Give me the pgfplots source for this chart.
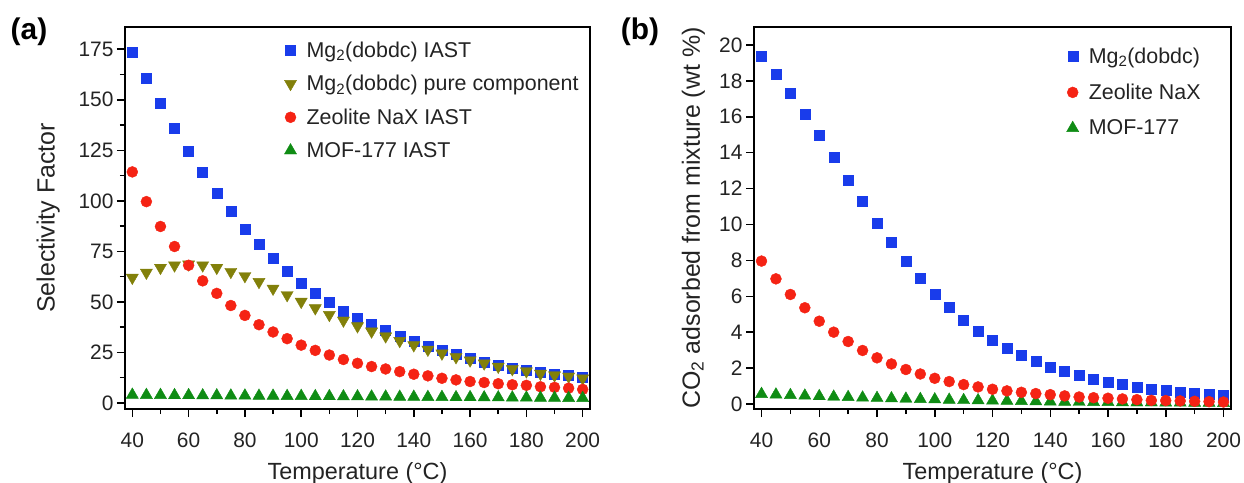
\documentclass[border=0pt]{standalone}
\usepackage{pgfplots}
\usepackage{pgfplotstable}
\pgfplotsset{compat=1.18}
\usepackage{fontspec}
\setmainfont{Liberation Sans}
\definecolor{cblue}{RGB}{25,60,235}
\definecolor{colive}{RGB}{130,128,10}
\definecolor{cred}{RGB}{245,35,20}
\definecolor{cgreen}{RGB}{15,140,20}
\definecolor{ctext}{RGB}{35,35,35}

\pgfplotstableread{
T   mgi   mgp  nax   mof
40  173.4 62.0 114.3 4.0
45  160.8 64.5 99.6  3.9
50  148.1 66.9 87.3  3.9
55  135.8 68.1 77.4  3.8
60  124.6 68.6 68.1  3.8
65  114.1 68.1 60.4  3.7
70  104.0 66.9 54.2  3.7
75  94.7  64.9 48.2  3.6
80  86.2  62.8 43.3  3.6
85  78.4  59.9 38.7  3.5
90  71.8  56.6 35.1  3.5
95  65.1  53.4 31.8  3.4
100 59.4  50.1 28.6  3.4
105 54.5  46.9 26.0  3.3
110 49.8  43.6 23.7  3.3
115 45.5  40.8 21.5  3.2
120 42.0  38.0 19.6  3.2
125 38.8  35.4 18.0  3.1
130 35.9  33.0 16.8  3.1
135 33.0  30.7 15.5  3.0
140 30.4  28.6 14.2  3.0
145 28.1  26.4 13.4  2.9
150 26.1  24.5 12.2  2.9
155 24.0  22.7 11.4  2.8
160 22.2  21.1 10.6  2.8
165 20.4  19.6 10.1  2.7
170 18.8  18.0 9.5   2.7
175 17.3  16.8 9.0   2.6
180 16.2  15.7 8.7   2.6
185 15.0  14.5 8.0   2.5
190 14.2  13.7 7.7   2.5
195 13.5  13.1 7.3   2.4
200 12.7  12.2 6.7   2.4
}\tableA

\pgfplotstableread{
T   mg    nax  mof
40  19.35 7.96 0.55
45  18.38 6.97 0.52
50  17.30 6.10 0.49
55  16.15 5.36 0.46
60  14.95 4.61 0.43
65  13.73 4.00 0.40
70  12.46 3.48 0.38
75  11.27 2.98 0.35
80  10.08 2.57 0.33
85  9.00  2.23 0.31
90  7.94  1.92 0.29
95  6.99  1.67 0.27
100 6.14  1.43 0.25
105 5.37  1.25 0.23
110 4.69  1.08 0.21
115 4.07  0.95 0.20
120 3.57  0.82 0.18
125 3.11  0.73 0.17
130 2.72  0.65 0.16
135 2.38  0.58 0.14
140 2.06  0.52 0.13
145 1.82  0.45 0.12
150 1.58  0.39 0.11
155 1.39  0.35 0.10
160 1.23  0.32 0.10
165 1.08  0.28 0.09
170 0.95  0.24 0.08
175 0.84  0.20 0.08
180 0.74  0.19 0.07
185 0.66  0.17 0.07
190 0.60  0.15 0.06
195 0.54  0.13 0.06
200 0.48  0.11 0.05
}\tableB

\pgfplotsset{
  myaxis/.style={
    scale only axis,
    axis line style={line width=1.8bp, black},
    tick style={line width=1.5bp, black},
    major tick length=8bp, minor tick length=5bp,
    tick align=outside, tick pos=left,
    xmin=37.4, xmax=202.6, xtick={40,60,...,200}, minor x tick num=1,
    ticklabel style={font=\fontsize{21}{25}\selectfont, text=ctext},
    xticklabel style={yshift=-12bp},
    /pgf/number format/assume math mode=true,
    xlabel style={font=\fontsize{23.5}{27}\selectfont, text=ctext},
    ylabel style={font=\fontsize{25}{29}\selectfont, text=ctext},
    legend style={draw=none, fill=none, font=\fontsize{21.5}{25}\selectfont, text=ctext, inner sep=0pt, row sep=12.5bp,
      /tikz/every odd column/.append style={column sep=8bp}},
    legend cell align=left,
    xlabel={Temperature (°C)},
    xlabel style={at={(axis description cs:0.5,-0.168)}, anchor=center},
  },
  sq/.style={only marks, mark=square*, color=cblue, mark size=5bp},
  tdn/.style={only marks, mark=triangle*, color=colive, mark size=7bp, mark options={rotate=180}},
  ci/.style={only marks, mark=*, color=cred, mark size=5.5bp},
  tup/.style={only marks, mark=triangle*, color=cgreen, mark size=7bp},
}

\begin{document}
\begin{tikzpicture}
\useasboundingbox (0,0) rectangle (1244bp,483bp);

\node[font=\bfseries\fontsize{30}{34}\selectfont, text=black] at (29bp,451bp) {(a)};
\node[font=\bfseries\fontsize{30}{34}\selectfont, text=black] at (640bp,451bp) {(b)};

\begin{axis}[myaxis,
  at={(125bp,74bp)}, anchor=south west,
  width=465bp, height=382bp,
  ymin=-3, ymax=186, ytick={0,25,...,175}, minor y tick num=1,
  ylabel={Selectivity Factor},
  ylabel style={at={(axis description cs:-0.165,0.5)}, anchor=center},
  legend style={at={(axis description cs:0.3425,0.967)}, anchor=north west},
]
\addlegendimage{sq}\addlegendentry{Mg\textsubscript{2}(dobdc) IAST}
\addlegendimage{tdn}\addlegendentry{Mg\textsubscript{2}(dobdc) pure component}
\addlegendimage{ci}\addlegendentry{Zeolite NaX IAST}
\addlegendimage{tup}\addlegendentry{MOF-177 IAST}
\addplot[sq, forget plot] table[x=T, y=mgi] {\tableA};
\addplot[tdn, forget plot] table[x=T, y=mgp] {\tableA};
\addplot[ci, forget plot] table[x=T, y=nax] {\tableA};
\addplot[tup, forget plot] table[x=T, y=mof] {\tableA};
\end{axis}

\begin{axis}[myaxis,
  at={(754bp,74bp)}, anchor=south west,
  width=477bp, height=382bp,
  ymin=-0.28, ymax=21, ytick={0,2,...,20},
  ylabel={CO\textsubscript{2} adsorbed from mixture (wt \%)},
  ylabel style={at={(axis description cs:-0.127,0.5)}, anchor=center},
  legend style={at={(axis description cs:0.655,0.951)}, anchor=north west, row sep=15bp},
]
\addlegendimage{sq}\addlegendentry{Mg\textsubscript{2}(dobdc)}
\addlegendimage{ci}\addlegendentry{Zeolite NaX}
\addlegendimage{tup}\addlegendentry{MOF-177}
\addplot[sq, forget plot] table[x=T, y=mg] {\tableB};
\addplot[tup, forget plot] table[x=T, y=mof] {\tableB};
\addplot[ci, forget plot] table[x=T, y=nax] {\tableB};
\end{axis}
\end{tikzpicture}
\end{document}
